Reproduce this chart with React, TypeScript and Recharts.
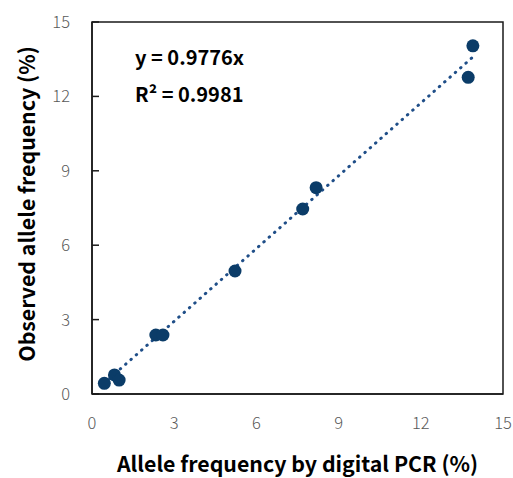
import React from "react";
import { ComposedChart, XAxis, YAxis, Scatter, Line, ReferenceArea } from "recharts";

const digitalPcr = [0.45, 0.82, 0.99, 2.33, 2.59, 5.22, 7.69, 8.18, 13.73, 13.9];
const observed = [0.43, 0.77, 0.56, 2.38, 2.38, 4.96, 7.46, 8.32, 12.77, 14.04];
const axisTicks = [0, 3, 6, 9, 12, 15];
const slope = 0.9776;
const rSquared = 0.9981;

const points = digitalPcr.map((x, i) => ({ x, y: observed[i] }));
const xMin = Math.min(...digitalPcr);
const xMax = Math.max(...digitalPcr);
const trend = [
  { x: xMin, y: slope * xMin },
  { x: xMax, y: slope * xMax },
];

const FONT = "'Noto Sans CJK JP', 'Noto Sans', sans-serif";
const AXIS = "#1a1a1a";
const MARK = "#0B3C68";

const YTick = (props: any) => {
  const { x, y, payload } = props;
  return (
    <g>
      <line x1={x + 22} x2={x + 29} y1={y} y2={y} stroke={AXIS} strokeWidth={1.5} />
      <text x={x} y={y} dy="0.36em" textAnchor="end" fontFamily={FONT} fontSize={16.5} fontWeight={300} fill="#595959">
        {payload.value}
      </text>
    </g>
  );
};

const XTick = (props: any) => {
  const { x, y, payload } = props;
  return (
    <text x={x} y={y} dy="0.72em" textAnchor="middle" fontFamily={FONT} fontSize={16.5} fontWeight={300} fill="#595959">
      {payload.value}
    </text>
  );
};

const Dot = (props: any) => <circle cx={props.cx} cy={props.cy} r={6.5} fill={MARK} />;

export default function App() {
  return (
    <div style={{ position: "absolute", left: 0, top: 0, width: 513, height: 478 }}>
      <ComposedChart width={513} height={478} margin={{ top: 22, right: 10, left: 0, bottom: 0 }}>
        <XAxis
          dataKey="x"
          type="number"
          domain={[0, 15]}
          ticks={axisTicks}
          height={84}
          tickSize={0}
          tickMargin={23}
          tick={<XTick />}
          axisLine={{ stroke: AXIS, strokeWidth: 1.5 }}
          label={{
            content: (p: any) => {
              const vb = p.viewBox;
              return (
                <text x={vb.x + vb.width / 2} y={vb.y + 78} textAnchor="middle" fontFamily={FONT} fontSize={21.3} fontWeight={700} fill="#000">
                  Allele frequency by digital PCR (%)
                </text>
              );
            },
          }}
        />
        <YAxis
          dataKey="y"
          type="number"
          domain={[0, 15]}
          ticks={axisTicks}
          width={92}
          tickSize={0}
          tickMargin={22}
          tick={<YTick />}
          axisLine={{ stroke: AXIS, strokeWidth: 1.5 }}
          label={{
            content: (p: any) => {
              const vb = p.viewBox;
              const cx = 35;
              const cy = vb.y + vb.height / 2 - 4;
              return (
                <text x={cx} y={cy} transform={`rotate(-90 ${cx} ${cy})`} textAnchor="middle" fontFamily={FONT} fontSize={21.3} fontWeight={700} fill="#000">
                  Observed allele frequency (%)
                </text>
              );
            },
          }}
        />
        <ReferenceArea x1={0} x2={15} y1={0} y2={15} fill="none" stroke={AXIS} strokeWidth={1.5} ifOverflow="visible" />
        <Line
          data={trend}
          dataKey="y"
          type="linear"
          stroke="#1F4E88"
          strokeWidth={3}
          strokeLinecap="round"
          strokeDasharray="0.5 6.6"
          dot={false}
          activeDot={false}
          isAnimationActive={false}
        />
        <Scatter data={points} dataKey="y" shape={<Dot />} isAnimationActive={false} />
      </ComposedChart>
      <svg width={513} height={478} style={{ position: "absolute", left: 0, top: 0, pointerEvents: "none" }}>
        <text x={135} y={65} fontFamily={FONT} fontSize={20} fontWeight={700} fill="#000">
          {`y = ${slope}x`}
        </text>
        <text x={135} y={102} fontFamily={FONT} fontSize={20} fontWeight={700} fill="#000">
          {`R² = ${rSquared}`}
        </text>
      </svg>
    </div>
  );
}
